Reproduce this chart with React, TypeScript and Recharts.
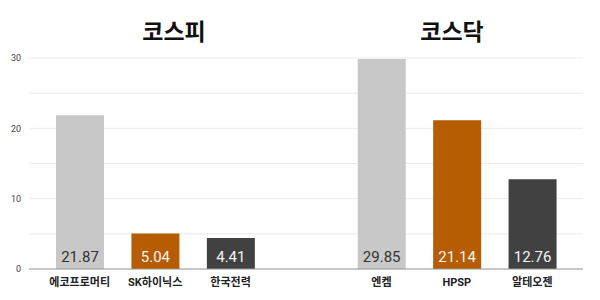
import React from 'react';
import { BarChart, Bar, XAxis, YAxis, CartesianGrid, Cell, LabelList } from 'recharts';

const categories = ['에코프로머티', 'SK하이닉스', '한국전력', '', '엔켐', 'HPSP', '알테오젠'];
const values = [21.87, 5.04, 4.41, null, 29.85, 21.14, 12.76];
const groupTitles = ['코스피', '코스닥'];
const yTicks = [0, 5, 10, 15, 20, 25, 30];

const barColors = ['#c8c8c8', '#b65c03', '#414141', '#ffffff', '#c8c8c8', '#b65c03', '#414141'];
const labelColors = ['#333333', '#f4f4f4', '#f4f4f4', '#ffffff', '#333333', '#f4f4f4', '#f4f4f4'];
const font = "Roboto, 'Noto Sans CJK KR', sans-serif";

const data = categories.map((name, i) => ({ name, value: values[i] }));

const renderValue = (props: any) => {
  const { x, y, width, height, value } = props;
  if (value == null) return null;
  const idx = values.indexOf(value);
  return (
    <text
      x={x + width / 2}
      y={y + height - 7}
      textAnchor="middle"
      fill={labelColors[idx]}
      fontSize={15}
      fontFamily={font}
    >
      {value.toFixed(2)}
    </text>
  );
};

const renderTick = (props: any) => {
  const { x, y, payload } = props;
  return (
    <text x={x} y={y + 9} textAnchor="middle" fill="#222" fontSize={11} fontWeight={700} fontFamily={font}>
      {payload.value}
    </text>
  );
};

const titleStyle: React.CSSProperties = {
  position: 'absolute',
  top: 13,
  width: 100,
  textAlign: 'center',
  fontFamily: font,
  fontWeight: 700,
  fontSize: 23,
  color: '#111',
};

export default function App() {
  return (
    <div style={{ position: 'fixed', left: 0, top: 0, width: 600, height: 300, background: '#fff' }}>
      <div style={{ ...titleStyle, left: 124 }}>{groupTitles[0]}</div>
      <div style={{ ...titleStyle, left: 402 }}>{groupTitles[1]}</div>
      <BarChart width={600} height={300} data={data} margin={{ top: 58, right: 17, bottom: 1, left: 0 }}>
        <CartesianGrid stroke="#ebebeb" vertical={false} />
        <YAxis
          width={29}
          domain={[0, 30]}
          ticks={yTicks}
          axisLine={false}
          tickLine={false}
          tick={{ fill: '#444', fontSize: 9, fontFamily: font }}
          tickFormatter={(v: number) => (v % 10 === 0 ? String(v) : '')}
        />
        <XAxis
          dataKey="name"
          height={30}
          axisLine={{ stroke: '#999' }}
          tickLine={false}
          padding={{ left: 13, right: 13 }}
          interval={0}
          tick={renderTick}
        />
        <Bar dataKey="value" barSize={48} isAnimationActive={false}>
          {data.map((d, i) => (
            <Cell key={i} fill={barColors[i]} />
          ))}
          <LabelList dataKey="value" content={renderValue} />
        </Bar>
      </BarChart>
    </div>
  );
}
